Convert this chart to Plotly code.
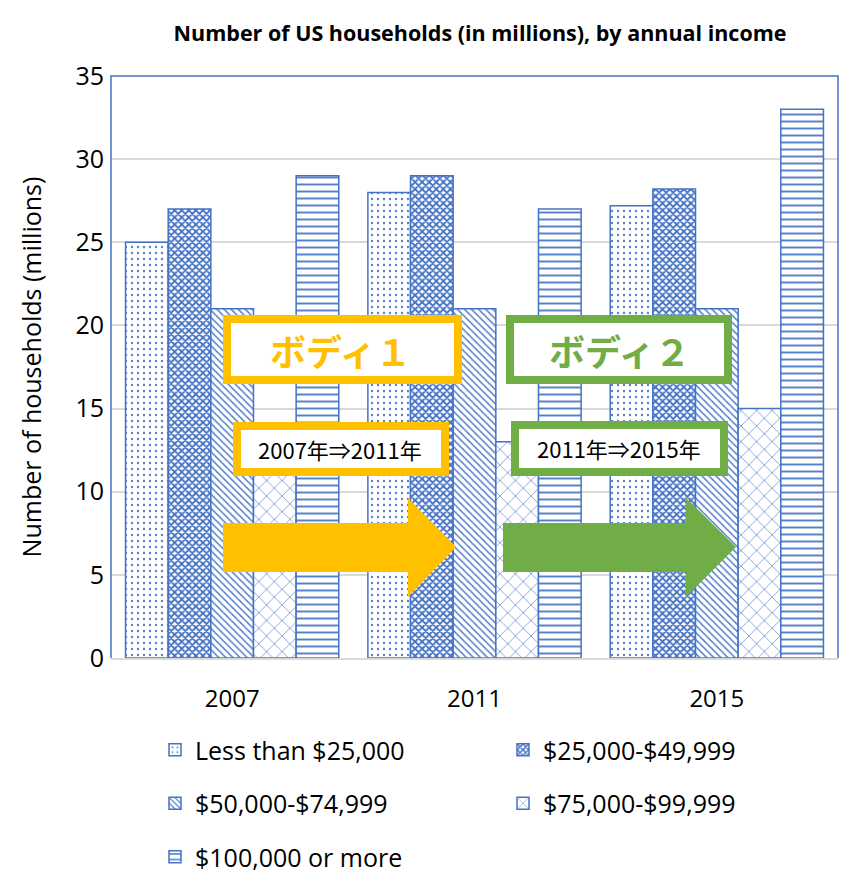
import plotly.graph_objects as go

years = ["2007", "2011", "2015"]
series_names = ["Less than $25,000", "$25,000-$49,999", "$50,000-$74,999",
                "$75,000-$99,999", "$100,000 or more"]
v_lt25 = [25, 28, 27.2]
v_25_50 = [27, 29, 28.2]
v_50_75 = [21, 21, 21]
v_75_100 = [14, 13, 15]
v_100p = [29, 27, 33]
values = [v_lt25, v_25_50, v_50_75, v_75_100, v_100p]

BLUE = "#4472C4"
YEL = "#FFC000"
GRN = "#70AD47"
FONT = "Open Sans, Noto Sans CJK JP, sans-serif"

patterns = [
    dict(shape=".", size=6, solidity=0.12, fgopacity=0.9),
    dict(shape="x", size=5, solidity=0.6, fgopacity=1),
    dict(shape="\\", size=5, solidity=0.3, fgopacity=0.9),
    dict(shape="x", size=11, solidity=0.12, fgopacity=0.9),
    dict(shape="-", size=7, solidity=0.28, fgopacity=0.9),
]
legends = ["legend", "legend2", "legend", "legend2", "legend"]

fig = go.Figure()
for i, (name, vals, pat, lg) in enumerate(zip(series_names, values, patterns, legends)):
    fig.add_trace(go.Bar(
        x=years, y=vals, name=name, legend=lg, legendgroup=f"g{i}",
        marker=dict(color="white", line=dict(color=BLUE, width=1.5),
                    pattern=dict(fgcolor=BLUE, bgcolor="white", fillmode="overlay", **pat)),
    ))

# plot area in pixels
L, R, T, B = 111, 838, 76, 658
W, H = R - L, B - T

def px(x):
    return (x - L) / W

def py(y):
    return (B - y) / H

shapes = []
# blue border (left/top/right)
shapes.append(dict(type="path", xref="paper", yref="paper",
                   path=f"M {px(L)},{py(B)} L {px(L)},{py(T)} L {px(R)},{py(T)} L {px(R)},{py(B)}",
                   line=dict(color=BLUE, width=1.5), layer="above"))

def rect(x0, y0, x1, y1, color, lw=8):
    return dict(type="rect", xref="paper", yref="paper",
                x0=px(x0 + lw / 2), x1=px(x1 - lw / 2), y0=py(y0 + lw / 2), y1=py(y1 - lw / 2),
                line=dict(color=color, width=lw), fillcolor="white", layer="above")

def arrow(xs, xh, xt, color):
    ys0, ys1, yh0, yh1, ytip = 523, 572, 498, 597, 547
    p = (f"M {px(xs)},{py(ys0)} L {px(xh)},{py(ys0)} L {px(xh)},{py(yh0)} "
         f"L {px(xt)},{py(ytip)} L {px(xh)},{py(yh1)} L {px(xh)},{py(ys1)} "
         f"L {px(xs)},{py(ys1)} Z")
    return dict(type="path", xref="paper", yref="paper", path=p,
                fillcolor=color, line=dict(width=0), layer="above")

shapes += [
    rect(223, 315, 462, 384, YEL),
    rect(233, 422, 449, 476, YEL),
    rect(506, 315, 732, 384, GRN),
    rect(511, 421, 728, 476, GRN),
    arrow(223, 408, 456, YEL),
    arrow(503, 686, 736, GRN),
]

def ann(text, x, y, size, color):
    return dict(text=text, x=px(x), y=py(y), xref="paper", yref="paper",
                xanchor="center", yanchor="middle", showarrow=False,
                font=dict(size=size, color=color, family="Noto Sans CJK JP"))

annotations = [
    ann("<b>ボディ１</b>", 340, 350, 36, YEL),
    ann("2007年⇒2011年", 340, 449, 22, "black"),
    ann("<b>ボディ２</b>", 619, 350, 36, GRN),
    ann("2011年⇒2015年", 619, 448, 22, "black"),
]

leg_common = dict(orientation="v", xanchor="left", yanchor="top",
                  tracegroupgap=18,
                  font=dict(size=25, color="black", family=FONT),
                  bgcolor="rgba(0,0,0,0)", itemclick=False)

fig.update_layout(
    width=865, height=885,
    margin=dict(l=L, r=865 - R, t=T, b=885 - B, autoexpand=False),
    paper_bgcolor="white", plot_bgcolor="white",
    font=dict(family=FONT, color="black"),
    title=dict(text="<b>Number of US households (in millions), by annual income</b>",
               x=0.555, xanchor="center", y=1 - 33 / 885, yanchor="middle",
               font=dict(size=21.5, color="black", family=FONT)),
    barmode="group", bargap=0.12, bargroupgap=0,
    xaxis=dict(showgrid=False, showline=True, linecolor="#D9D9D9", linewidth=1.5,
               tickfont=dict(size=24), ticks="", ticklabelstandoff=18),
    yaxis=dict(range=[0, 35], dtick=5, showgrid=True, gridcolor="#D9D9D9", gridwidth=1.5,
               zeroline=False, showline=False, tickfont=dict(size=25), ticklabelstandoff=6,
               title=dict(text="Number of households (millions)", font=dict(size=25), standoff=26)),
    legend=dict(x=px(155), y=py(727), **leg_common),
    legend2=dict(x=px(503), y=py(727), **leg_common),
    shapes=shapes, annotations=annotations,
)

fig.write_html("out.html")
